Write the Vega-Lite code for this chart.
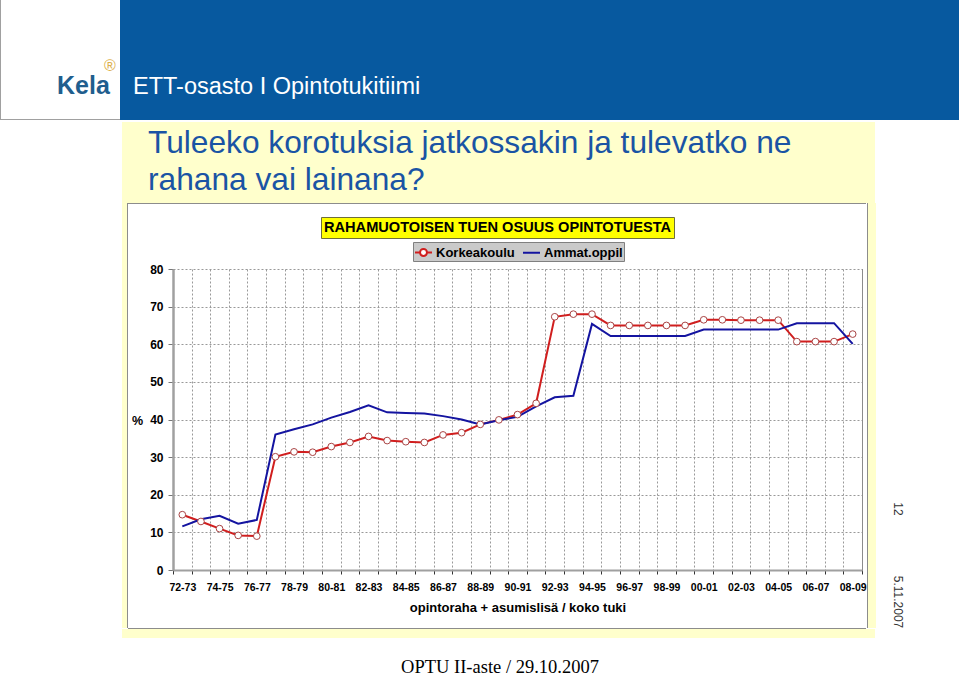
{
  "$schema": "https://vega.github.io/schema/vega-lite/v6.json",
  "background": "white",
  "padding": 0,
  "spacing": 0,
  "config": {"view": {"stroke": null}, "font": "Liberation Sans", "concat": {"spacing": 0}},
  "vconcat": [
    {
      "spacing": 0,
      "hconcat": [
        {
          "spacing": 0,
          "vconcat": [
            {
              "spacing": 0,
              "hconcat": [
                {"width": 1, "height": 119, "data": {"values": []}, "mark": "point", "view": {"fill": "#a0a0a0"}},
                {
                  "spacing": 0,
                  "vconcat": [
                    {"width": 119, "height": 58, "data": {"values": []}, "mark": "point"},
                    {
                      "spacing": 0,
                      "hconcat": [
                        {"width": 101, "height": 16, "data": {"values": []}, "mark": "point"},
                        {"width": 16, "height": 16, "data": {"values": [{"t": "®"}]},
                         "mark": {"type": "text", "font": "Liberation Sans", "fontSize": 16, "color": "#dcb04a", "baseline": "middle", "align": "center"},
                         "encoding": {"text": {"field": "t"}}}
                      ]
                    },
                    {"width": 119, "height": 39, "data": {"values": []}, "mark": "point",
                     "title": {"text": "Kela", "anchor": "start", "frame": "group", "orient": "top", "offset": -39, "dx": 56, "baseline": "alphabetic", "font": "Liberation Sans", "fontSize": 25, "fontWeight": "bold", "color": "#1f5e8e"}}
                  ]
                }
              ]
            },
            {"width": 120, "height": 1, "data": {"values": []}, "mark": "point", "view": {"fill": "#a0a0a0"}}
          ]
        },
        {"width": 839, "height": 120, "data": {"values": []}, "mark": "point",
         "view": {"fill": "#07599f"},
         "title": {"text": "ETT-osasto I Opintotukitiimi", "anchor": "start", "frame": "group", "orient": "top", "offset": -117.5, "dx": 13, "baseline": "alphabetic", "font": "Liberation Sans", "fontSize": 23.5, "fontWeight": "normal", "color": "white"}}
      ]
    },
    {
      "spacing": 0,
      "hconcat": [
        {"width": 122, "height": 517, "data": {"values": []}, "mark": "point"},
        {
          "spacing": 0,
          "vconcat": [
            {"width": 753, "height": 2, "data": {"values": []}, "mark": "point"},
            {"width": 753, "height": 81, "data": {"values": []}, "mark": "point",
             "view": {"fill": "#ffffcc"},
             "title": {"text": ["Tuleeko korotuksia jatkossakin ja tulevatko ne", "rahana vai lainana?"], "anchor": "start", "frame": "group", "orient": "top", "offset": -99.7, "dx": 26, "baseline": "alphabetic", "lineHeight": 37, "font": "Liberation Sans", "fontSize": 31.7, "fontWeight": "normal", "color": "#1a54a4"}},
            {
              "spacing": 0,
              "hconcat": [
                {"width": 5, "height": 425, "data": {"values": []}, "mark": "point", "view": {"fill": "#ffffcc"}},
                {"width": 1, "height": 425, "data": {"values": []}, "mark": "point", "view": {"fill": "#8c8c8c"}},
                {
                  "spacing": 0,
                  "vconcat": [
                    {"width": 738, "height": 1, "data": {"values": []}, "mark": "point", "view": {"fill": "#8c8c8c"}},
                    {
                      "spacing": 0,
                      "vconcat": [
                        {"width": 738, "height": 12, "data": {"values": []}, "mark": "point"},
                        {
                          "spacing": 0,
                          "hconcat": [
                            {"width": 192, "height": 21, "data": {"values": []}, "mark": "point"},
                            {"width": 353, "height": 21,
                             "data": {"values": [{"t": "RAHAMUOTOISEN TUEN OSUUS OPINTOTUESTA"}]},
                             "mark": {"type": "text", "font": "Liberation Sans", "fontSize": 14.6, "fontWeight": "bold", "color": "black", "baseline": "middle", "align": "center"},
                             "encoding": {"text": {"field": "t"}},
                             "view": {"fill": "#ffff00", "stroke": "#6e6e3c"}}
                          ]
                        },
                        {"width": 738, "height": 24, "data": {"values": []}, "mark": "point"}
                      ]
                    },
                    {
                      "spacing": 0, "bounds": "flush",
                      "hconcat": [
                        {"width": 45, "height": 301, "data": {"values": []}, "mark": "point"},
                        {
                          "width": 689, "height": 301,
                          "data": {"values": [
                            {"period": "72-73", "series": "Korkeakoulu", "value": 14.7},
                            {"period": "73-74", "series": "Korkeakoulu", "value": 12.9},
                            {"period": "74-75", "series": "Korkeakoulu", "value": 11.0},
                            {"period": "75-76", "series": "Korkeakoulu", "value": 9.2},
                            {"period": "76-77", "series": "Korkeakoulu", "value": 9.0},
                            {"period": "77-78", "series": "Korkeakoulu", "value": 30.1},
                            {"period": "78-79", "series": "Korkeakoulu", "value": 31.4},
                            {"period": "79-80", "series": "Korkeakoulu", "value": 31.3},
                            {"period": "80-81", "series": "Korkeakoulu", "value": 32.8},
                            {"period": "81-82", "series": "Korkeakoulu", "value": 33.9},
                            {"period": "82-83", "series": "Korkeakoulu", "value": 35.5},
                            {"period": "83-84", "series": "Korkeakoulu", "value": 34.4},
                            {"period": "84-85", "series": "Korkeakoulu", "value": 34.1},
                            {"period": "85-86", "series": "Korkeakoulu", "value": 33.9},
                            {"period": "86-87", "series": "Korkeakoulu", "value": 35.9},
                            {"period": "87-88", "series": "Korkeakoulu", "value": 36.5},
                            {"period": "88-89", "series": "Korkeakoulu", "value": 38.7},
                            {"period": "89-90", "series": "Korkeakoulu", "value": 39.9},
                            {"period": "90-91", "series": "Korkeakoulu", "value": 41.3},
                            {"period": "91-92", "series": "Korkeakoulu", "value": 44.3},
                            {"period": "92-93", "series": "Korkeakoulu", "value": 67.3},
                            {"period": "93-94", "series": "Korkeakoulu", "value": 68.0},
                            {"period": "94-95", "series": "Korkeakoulu", "value": 68.0},
                            {"period": "95-96", "series": "Korkeakoulu", "value": 65.0},
                            {"period": "96-97", "series": "Korkeakoulu", "value": 65.0},
                            {"period": "97-98", "series": "Korkeakoulu", "value": 65.0},
                            {"period": "98-99", "series": "Korkeakoulu", "value": 65.0},
                            {"period": "99-00", "series": "Korkeakoulu", "value": 65.0},
                            {"period": "00-01", "series": "Korkeakoulu", "value": 66.5},
                            {"period": "01-02", "series": "Korkeakoulu", "value": 66.5},
                            {"period": "02-03", "series": "Korkeakoulu", "value": 66.4},
                            {"period": "03-04", "series": "Korkeakoulu", "value": 66.4},
                            {"period": "04-05", "series": "Korkeakoulu", "value": 66.4},
                            {"period": "05-06", "series": "Korkeakoulu", "value": 60.7},
                            {"period": "06-07", "series": "Korkeakoulu", "value": 60.7},
                            {"period": "07-08", "series": "Korkeakoulu", "value": 60.7},
                            {"period": "08-09", "series": "Korkeakoulu", "value": 62.7},
                            {"period": "72-73", "series": "Ammat.oppil", "value": 11.6},
                            {"period": "73-74", "series": "Ammat.oppil", "value": 13.5},
                            {"period": "74-75", "series": "Ammat.oppil", "value": 14.4},
                            {"period": "75-76", "series": "Ammat.oppil", "value": 12.3},
                            {"period": "76-77", "series": "Ammat.oppil", "value": 13.3},
                            {"period": "77-78", "series": "Ammat.oppil", "value": 36.0},
                            {"period": "78-79", "series": "Ammat.oppil", "value": 37.4},
                            {"period": "79-80", "series": "Ammat.oppil", "value": 38.7},
                            {"period": "80-81", "series": "Ammat.oppil", "value": 40.5},
                            {"period": "81-82", "series": "Ammat.oppil", "value": 42.0},
                            {"period": "82-83", "series": "Ammat.oppil", "value": 43.8},
                            {"period": "83-84", "series": "Ammat.oppil", "value": 41.9},
                            {"period": "84-85", "series": "Ammat.oppil", "value": 41.7},
                            {"period": "85-86", "series": "Ammat.oppil", "value": 41.6},
                            {"period": "86-87", "series": "Ammat.oppil", "value": 40.9},
                            {"period": "87-88", "series": "Ammat.oppil", "value": 40.0},
                            {"period": "88-89", "series": "Ammat.oppil", "value": 38.7},
                            {"period": "89-90", "series": "Ammat.oppil", "value": 39.8},
                            {"period": "90-91", "series": "Ammat.oppil", "value": 40.7},
                            {"period": "91-92", "series": "Ammat.oppil", "value": 43.5},
                            {"period": "92-93", "series": "Ammat.oppil", "value": 45.9},
                            {"period": "93-94", "series": "Ammat.oppil", "value": 46.3},
                            {"period": "94-95", "series": "Ammat.oppil", "value": 65.4},
                            {"period": "95-96", "series": "Ammat.oppil", "value": 62.2},
                            {"period": "96-97", "series": "Ammat.oppil", "value": 62.2},
                            {"period": "97-98", "series": "Ammat.oppil", "value": 62.2},
                            {"period": "98-99", "series": "Ammat.oppil", "value": 62.2},
                            {"period": "99-00", "series": "Ammat.oppil", "value": 62.2},
                            {"period": "00-01", "series": "Ammat.oppil", "value": 63.9},
                            {"period": "01-02", "series": "Ammat.oppil", "value": 63.9},
                            {"period": "02-03", "series": "Ammat.oppil", "value": 63.9},
                            {"period": "03-04", "series": "Ammat.oppil", "value": 63.9},
                            {"period": "04-05", "series": "Ammat.oppil", "value": 63.9},
                            {"period": "05-06", "series": "Ammat.oppil", "value": 65.6},
                            {"period": "06-07", "series": "Ammat.oppil", "value": 65.6},
                            {"period": "07-08", "series": "Ammat.oppil", "value": 65.6},
                            {"period": "08-09", "series": "Ammat.oppil", "value": 60.1}
                          ]},
                          "encoding": {
                            "x": {"field": "period", "type": "ordinal", "sort": null,
                                  "scale": {"type": "band", "paddingInner": 0, "paddingOuter": 0},
                                  "axis": {"title": "opintoraha + asumislisä / koko tuki", "titleFont": "Liberation Sans", "titleFontSize": 13, "titleFontWeight": "bold", "titleColor": "black", "titleX": 344.5, "titleY": 41, "titleBaseline": "alphabetic", "titleAlign": "center",
                                           "labelFont": "Liberation Sans", "labelFontSize": 10.5, "labelFontWeight": "bold", "labelColor": "black", "labelAngle": 0, "labelBaseline": "alphabetic", "labelPadding": 16.5, "labelOverlap": false,
                                           "labelExpr": "toNumber(substring(datum.label, 0, 2)) % 2 === 0 ? datum.label : ''",
                                           "tickBand": "extent", "tickSize": 4, "tickColor": "#333333", "domainColor": "#a0a0a0", "domainWidth": 2,
                                           "grid": true, "gridColor": "#999999", "gridDash": [2, 2], "gridWidth": 1}},
                            "y": {"field": "value", "type": "quantitative",
                                  "scale": {"domain": [0, 80], "nice": false},
                                  "axis": {"title": "%", "titleAngle": 0, "titleX": -36, "titleY": 151, "titleAlign": "center", "titleBaseline": "middle", "titleFont": "Liberation Sans", "titleFontSize": 12.5, "titleFontWeight": "bold", "titleColor": "black",
                                           "values": [0, 10, 20, 30, 40, 50, 60, 70, 80],
                                           "labelFont": "Liberation Sans", "labelFontSize": 12, "labelFontWeight": "bold", "labelColor": "black", "labelPadding": 5,
                                           "tickSize": 5, "tickColor": "#777777", "domainColor": "#a0a0a0", "domainWidth": 2.5,
                                           "grid": true, "gridColor": "#999999", "gridDash": [2, 2], "gridWidth": 1}}
                          },
                          "layer": [
                            {"mark": {"type": "line", "strokeWidth": 2},
                             "encoding": {"color": {"field": "series", "type": "nominal",
                               "scale": {"domain": ["Korkeakoulu", "Ammat.oppil"], "range": ["#d01e1e", "#1414a0"]},
                               "legend": {"title": null, "orient": "none", "legendX": 413, "legendY": 242, "direction": "horizontal",
                                          "fillColor": "#cacaca", "strokeColor": "#808080", "padding": 1,
                                          "labelFont": "Liberation Sans", "labelFontSize": 13, "labelFontWeight": "bold", "labelColor": "black",
                                          "symbolSize": 289, "symbolStrokeWidth": 2, "symbolType": "stroke", "labelOffset": 3, "columnPadding": 4,
                                          "encode": {"symbols": {"update": {
                                            "shape": {"signal": "datum.value === 'Korkeakoulu' ? 'M-1,0L-0.41,0M0.41,0L1,0M0.41,0A0.41,0.41,0,1,1,-0.41,0A0.41,0.41,0,1,1,0.41,0Z' : 'stroke'"},
                                            "fill": {"signal": "datum.value === 'Korkeakoulu' ? 'white' : 'transparent'"}
                                          }}}}}}},
                            {"transform": [{"filter": "datum.series === 'Korkeakoulu'"}],
                             "mark": {"type": "point", "shape": "circle", "filled": true, "fill": "white", "stroke": "#a94444", "strokeWidth": 1, "size": 45, "opacity": 1}}
                          ]
                        },
                        {"width": 1, "height": 301, "data": {"values": []}, "mark": "point", "view": {"fill": "#8c8c8c"}},
                        {"width": 3, "height": 301, "data": {"values": []}, "mark": "point"}
                      ]
                    },
                    {"width": 738, "height": 14, "data": {"values": []}, "mark": "point"},
                    {"width": 738, "height": 1, "data": {"values": []}, "mark": "point", "view": {"fill": "#8c8c8c"}}
                  ]
                },
                {"width": 1, "height": 425, "data": {"values": []}, "mark": "point", "view": {"fill": "#8c8c8c"}},
                {"width": 8, "height": 425, "data": {"values": []}, "mark": "point", "view": {"fill": "#ffffcc"}}
              ]
            },
            {"width": 753, "height": 9, "data": {"values": []}, "mark": "point", "view": {"fill": "#ffffcc"}}
          ]
        },
        {
          "spacing": 0,
          "vconcat": [
            {"width": 44, "height": 379, "data": {"values": []}, "mark": "point"},
            {"width": 44, "height": 20, "data": {"values": [{"t": "12"}]},
             "mark": {"type": "text", "angle": 90, "font": "Liberation Sans", "fontSize": 12, "color": "#333333", "baseline": "middle", "align": "center"},
             "encoding": {"text": {"field": "t"}}},
            {"width": 44, "height": 55.5, "data": {"values": []}, "mark": "point"},
            {"width": 44, "height": 20, "data": {"values": [{"t": "5.11.2007"}]},
             "mark": {"type": "text", "angle": 90, "font": "Liberation Sans", "fontSize": 12, "color": "#333333", "baseline": "middle", "align": "center"},
             "encoding": {"text": {"field": "t"}}}
          ]
        }
      ]
    },
    {
      "spacing": 0,
      "hconcat": [
        {"width": 41, "height": 38, "data": {"values": []}, "mark": "point"},
        {
          "spacing": 0,
          "vconcat": [
            {"width": 918, "height": 19.2, "data": {"values": []}, "mark": "point"},
            {"width": 918, "height": 8, "data": {"values": [{"t": "OPTU II-aste / 29.10.2007"}]},
             "mark": {"type": "text", "font": "Liberation Serif", "fontSize": 18.5, "color": "black", "baseline": "alphabetic", "align": "center"},
             "encoding": {"text": {"field": "t"}}}
          ]
        }
      ]
    }
  ]
}
